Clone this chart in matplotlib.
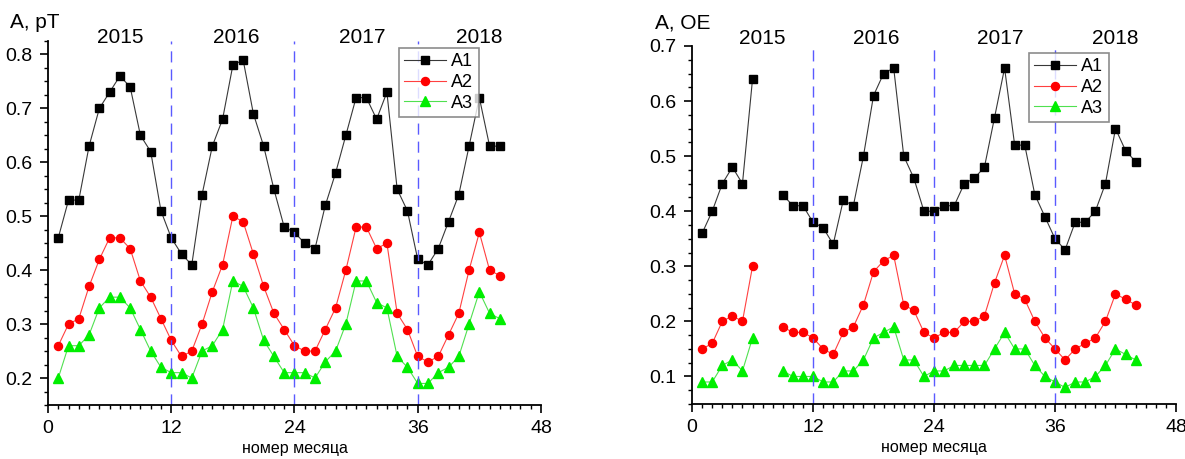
import numpy as np
import matplotlib.pyplot as plt
from matplotlib.ticker import MultipleLocator

plt.rcParams['font.family'] = ['Liberation Sans', 'DejaVu Sans']

months = np.arange(1, 45)

# left panel, A in pT
pt_a1 = [0.46, 0.53, 0.53, 0.63, 0.70, 0.73, 0.76, 0.74, 0.65, 0.62, 0.51, 0.46,
         0.43, 0.41, 0.54, 0.63, 0.68, 0.78, 0.79, 0.69, 0.63, 0.55, 0.48, 0.47,
         0.45, 0.44, 0.52, 0.58, 0.65, 0.72, 0.72, 0.68, 0.73, 0.55, 0.51, 0.42,
         0.41, 0.44, 0.49, 0.54, 0.63, 0.72, 0.63, 0.63]
pt_a2 = [0.26, 0.30, 0.31, 0.37, 0.42, 0.46, 0.46, 0.44, 0.38, 0.35, 0.31, 0.27,
         0.24, 0.25, 0.30, 0.36, 0.41, 0.50, 0.49, 0.43, 0.37, 0.32, 0.29, 0.26,
         0.25, 0.25, 0.29, 0.33, 0.40, 0.48, 0.48, 0.44, 0.45, 0.32, 0.29, 0.24,
         0.23, 0.24, 0.28, 0.32, 0.40, 0.47, 0.40, 0.39]
pt_a3 = [0.20, 0.26, 0.26, 0.28, 0.33, 0.35, 0.35, 0.33, 0.29, 0.25, 0.22, 0.21,
         0.21, 0.20, 0.25, 0.26, 0.29, 0.38, 0.37, 0.33, 0.27, 0.24, 0.21, 0.21,
         0.21, 0.20, 0.23, 0.25, 0.30, 0.38, 0.38, 0.34, 0.33, 0.24, 0.22, 0.19,
         0.19, 0.21, 0.22, 0.24, 0.30, 0.36, 0.32, 0.31]

# right panel, A in OE (months 7 and 8 missing)
nan = np.nan
oe_a1 = [0.36, 0.40, 0.45, 0.48, 0.45, 0.64, nan, nan, 0.43, 0.41, 0.41, 0.38,
         0.37, 0.34, 0.42, 0.41, 0.50, 0.61, 0.65, 0.66, 0.50, 0.46, 0.40, 0.40,
         0.41, 0.41, 0.45, 0.46, 0.48, 0.57, 0.66, 0.52, 0.52, 0.43, 0.39, 0.35,
         0.33, 0.38, 0.38, 0.40, 0.45, 0.55, 0.51, 0.49]
oe_a2 = [0.15, 0.16, 0.20, 0.21, 0.20, 0.30, nan, nan, 0.19, 0.18, 0.18, 0.17,
         0.15, 0.14, 0.18, 0.19, 0.23, 0.29, 0.31, 0.32, 0.23, 0.22, 0.18, 0.17,
         0.18, 0.18, 0.20, 0.20, 0.21, 0.27, 0.32, 0.25, 0.24, 0.20, 0.17, 0.15,
         0.13, 0.15, 0.16, 0.17, 0.20, 0.25, 0.24, 0.23]
oe_a3 = [0.09, 0.09, 0.12, 0.13, 0.11, 0.17, nan, nan, 0.11, 0.10, 0.10, 0.10,
         0.09, 0.09, 0.11, 0.11, 0.13, 0.17, 0.18, 0.19, 0.13, 0.13, 0.10, 0.11,
         0.11, 0.12, 0.12, 0.12, 0.12, 0.15, 0.18, 0.15, 0.15, 0.12, 0.10, 0.09,
         0.08, 0.09, 0.09, 0.10, 0.12, 0.15, 0.14, 0.13]

years = ['2015', '2016', '2017', '2018']
year_pos = [7, 18.3, 30.6, 42]
year_breaks = [12, 24, 36]

W, H = 1185, 459
fig = plt.figure(figsize=(W / 100, H / 100), dpi=100)
ax1 = fig.add_axes([0.0405, 0.1176, 0.416, 0.7931])
ax2 = fig.add_axes([0.584, 0.1198, 0.4084, 0.780])


def draw_panel(ax, a1, a2, a3, ylim, ylabel, label_px, leg_px, year_y):
    ax.plot(months, a1, '-s', color='#383838', lw=0.8, mfc='black', mec='black',
            ms=6, label='A1')
    ax.plot(months, a2, '-o', color='#ff4040', lw=0.8, mfc='red', mec='red',
            ms=5.8, label='A2')
    ax.plot(months, a3, '-^', color='#50e050', lw=0.8, mfc='#00ee00', mec='#00ee00',
            ms=6.6, label='A3')
    for xb in year_breaks:
        ax.axvline(xb, color='#5a5aff', lw=1, dashes=(8, 5))
    ax.set_xlim(0, 48)
    ax.set_ylim(*ylim)
    ax.xaxis.set_major_locator(MultipleLocator(12))
    ax.xaxis.set_minor_locator(MultipleLocator(1))
    ax.yaxis.set_major_locator(MultipleLocator(0.1))
    ax.yaxis.set_minor_locator(MultipleLocator(0.025))
    for side in ['top', 'right']:
        ax.spines[side].set_visible(False)
    for side in ['left', 'bottom']:
        ax.spines[side].set_linewidth(1.3)
    ax.tick_params(which='major', direction='out', length=6, width=1.2,
                   labelsize=14, pad=5)
    ax.tick_params(which='minor', direction='out', length=3, width=1)
    ax.yaxis.set_major_formatter(plt.FuncFormatter(lambda v, p: '%.1f' % v))
    ax.set_xlabel('номер месяца', fontsize=11.5, labelpad=3)
    fig.text(label_px[0] / W, 1 - label_px[1] / H, ylabel, fontsize=15,
             ha='left', va='center')
    for name, xp in zip(years, year_pos):
        ax.text(xp, year_y, name, transform=ax.get_xaxis_transform(), fontsize=15,
                ha='center', va='center', clip_on=False)
    leg = ax.legend(loc='upper left', bbox_to_anchor=(leg_px[0] / W, 1 - leg_px[1] / H),
                    bbox_transform=fig.transFigure, fontsize=13, frameon=True,
                    fancybox=False, edgecolor='#707070', handlelength=2.3,
                    handletextpad=0.3, borderpad=0.3, labelspacing=0.2,
                    borderaxespad=0)
    leg.get_frame().set_linewidth(1.2)


draw_panel(ax1, pt_a1, pt_a2, pt_a3, (0.15, 0.825), 'A, pT', (10, 23),
           (399, 48), 1.01)
draw_panel(ax2, oe_a1, oe_a2, oe_a3, (0.05, 0.70), 'A, OE', (655, 23),
           (1029, 53), 1.02)

fig.savefig('out.png', dpi=100)
